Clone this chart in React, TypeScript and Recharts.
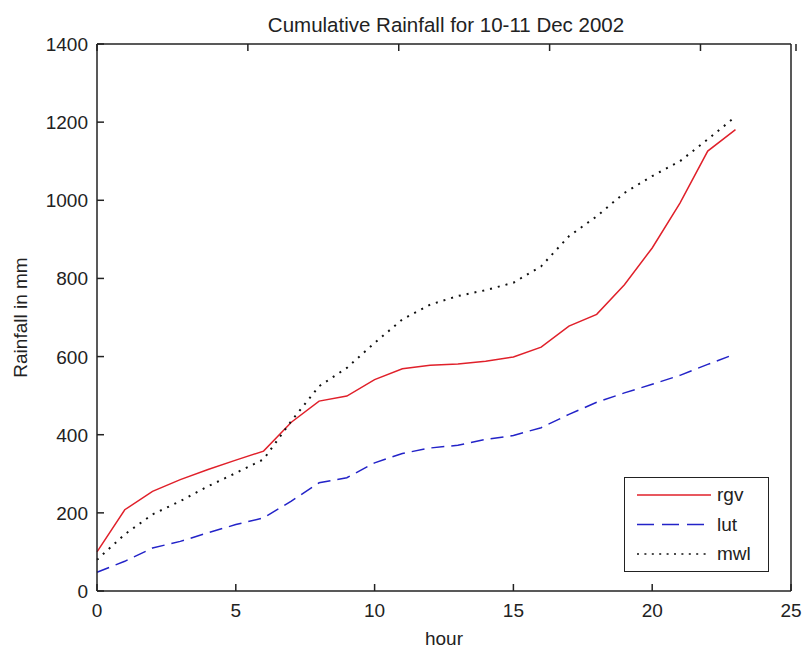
import { LineChart, Line, XAxis, YAxis, Legend } from "recharts";

const hours = [0, 1, 2, 3, 4, 5, 6, 7, 8, 9, 10, 11, 12, 13, 14, 15, 16, 17, 18, 19, 20, 21, 22, 23];
const rgv = [100, 208, 255, 285, 311, 335, 358, 432, 486, 499, 541, 569, 578, 581, 588, 599, 624, 678, 708, 784, 878, 993, 1126, 1181];
const lut = [48, 76, 110, 127, 149, 170, 187, 230, 277, 290, 328, 352, 366, 373, 388, 398, 418, 452, 483, 507, 529, 552, 580, 607];
const mwl = [80, 145, 196, 230, 268, 302, 337, 435, 524, 571, 635, 695, 733, 755, 770, 789, 831, 908, 959, 1019, 1062, 1100, 1156, 1214];

const xTicks = [0, 5, 10, 15, 20, 25];
const yTicks = [0, 200, 400, 600, 800, 1000, 1200, 1400];

const data = hours.map((h, i) => ({ hour: h, rgv: rgv[i], lut: lut[i], mwl: mwl[i] }));

const series = [
  { key: "rgv", color: "#e0202a", dash: undefined, legendDash: undefined },
  { key: "lut", color: "#2323c8", dash: "13 7", legendDash: "17 8" },
  { key: "mwl", color: "#111111", dash: "2 6", legendDash: "2 5.4" },
];

const W = 804;
const H = 649;
const MARGIN = { top: 43, right: 12, bottom: 0, left: 0 };
const Y_AXIS_W = 97;
const X_AXIS_H = 58;

// edges of the plot box
const BOX = {
  left: MARGIN.left + Y_AXIS_W,
  right: W - MARGIN.right - 1,
  top: MARGIN.top + 1,
  bottom: H - MARGIN.bottom - X_AXIS_H,
};

const FONT = "'Liberation Sans', Arial, sans-serif";
const INK = "#222222";
const TICK_LEN = 7;

// matlab-style ticks: short marks pointing into the plot box
function BottomTick(props: any) {
  const { x, payload } = props;
  return (
    <g>
      <line x1={x} x2={x} y1={BOX.bottom} y2={BOX.bottom - TICK_LEN} stroke={INK} strokeWidth={1.5} />
      <text x={x} y={BOX.bottom + 26} textAnchor="middle" fontSize={19} fill={INK} fontFamily={FONT}>
        {payload.value}
      </text>
    </g>
  );
}

function LeftTick(props: any) {
  const { y, payload } = props;
  return (
    <g>
      <line x1={BOX.left} x2={BOX.left + TICK_LEN} y1={y} y2={y} stroke={INK} strokeWidth={1.5} />
      <text x={BOX.left - 9} y={y + 7} textAnchor="end" fontSize={19} fill={INK} fontFamily={FONT}>
        {payload.value}
      </text>
    </g>
  );
}

function TopTick(props: any) {
  const { x } = props;
  return <line x1={x} x2={x} y1={BOX.top} y2={BOX.top + TICK_LEN} stroke={INK} strokeWidth={1.5} />;
}

function RightTick(props: any) {
  const { y } = props;
  return <line x1={BOX.right} x2={BOX.right - TICK_LEN} y1={y} y2={y} stroke={INK} strokeWidth={1.5} />;
}

function Title() {
  return (
    <text x={(BOX.left + BOX.right) / 2 + 2} y={BOX.top - 12} textAnchor="middle" fontSize={20.5} fill={INK} fontFamily={FONT}>
      Cumulative Rainfall for 10-11 Dec 2002
    </text>
  );
}

function YTitle() {
  const cy = (BOX.top + BOX.bottom) / 2;
  return (
    <text x={27} y={cy} transform={`rotate(-90 27 ${cy})`} textAnchor="middle" fontSize={19} fill={INK} fontFamily={FONT}>
      Rainfall in mm
    </text>
  );
}

function LegendBox() {
  return (
    <div style={{ width: 143, height: 93, border: "1.5px solid #222", background: "#fff" }}>
      <svg width={143} height={93}>
        {series.map((s, i) => {
          const y = 17 + i * 29.5;
          return (
            <g key={s.key}>
              <line x1={12} x2={86} y1={y} y2={y} stroke={s.color} strokeWidth={1.5} strokeDasharray={s.legendDash} />
              <text x={92} y={y + 6} fontSize={19} fill={INK} fontFamily={FONT}>
                {s.key}
              </text>
            </g>
          );
        })}
      </svg>
    </div>
  );
}

const axisLine = { stroke: INK, strokeWidth: 1.5 };

export default function App() {
  return (
    <div style={{ position: "absolute", left: 0, top: 0, width: W, height: H, background: "#fff" }}>
      <LineChart width={W} height={H} data={data} margin={MARGIN}>
        <XAxis
          dataKey="hour"
          type="number"
          domain={[0, 25]}
          ticks={xTicks}
          height={X_AXIS_H}
          tickLine={false}
          tick={<BottomTick />}
          axisLine={axisLine}
          label={{ value: "hour", position: "insideBottom", offset: 4, fontSize: 19, fill: INK, fontFamily: FONT }}
        />
        <XAxis
          xAxisId="top"
          orientation="top"
          type="number"
          domain={[0, 25]}
          ticks={xTicks}
          height={1}
          tickLine={false}
          tick={<TopTick />}
          axisLine={axisLine}
          label={<Title />}
        />
        <YAxis
          type="number"
          domain={[0, 1400]}
          ticks={yTicks}
          width={Y_AXIS_W}
          tickLine={false}
          tick={<LeftTick />}
          axisLine={axisLine}
          label={<YTitle />}
        />
        <YAxis
          yAxisId="right"
          orientation="right"
          type="number"
          domain={[0, 1400]}
          ticks={yTicks}
          width={1}
          tickLine={false}
          tick={<RightTick />}
          axisLine={axisLine}
        />
        {series.map((s) => (
          <Line
            key={s.key}
            type="linear"
            dataKey={s.key}
            stroke={s.color}
            strokeWidth={s.key === "mwl" ? 2 : 1.5}
            strokeDasharray={s.dash}
            dot={false}
            isAnimationActive={false}
          />
        ))}
        <Legend
          layout="vertical"
          align="center"
          verticalAlign="middle"
          content={() => <LegendBox />}
          wrapperStyle={{ position: "absolute", left: 624, top: 477, width: 145, height: 95 }}
        />
      </LineChart>
    </div>
  );
}
